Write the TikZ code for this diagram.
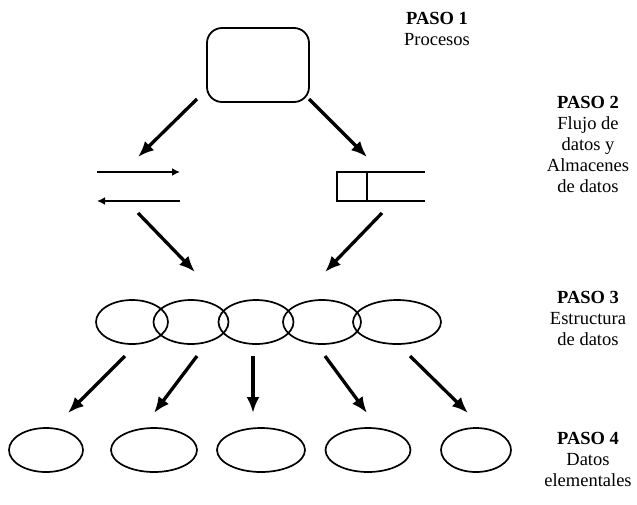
\documentclass[tikz,border=0pt]{standalone}
\usepackage{fontspec}
\setmainfont{Liberation Serif}
\usetikzlibrary{arrows.meta,shapes.geometric}

\begin{document}
\begin{tikzpicture}[
    x=1pt, y=-1pt,
    every node/.style={font=\fontsize{18.5}{21}\selectfont},
    procbox/.style={
        draw, line width=1.8pt, rounded corners=15pt,
        minimum width=102pt, minimum height=74pt
    },
    stru/.style={
        draw, ellipse, line width=1.7pt, inner sep=0pt,
        minimum height=44pt
    },
    storebox/.style={
        draw, line width=1.7pt, inner sep=0pt, outer sep=0pt,
        minimum width=30pt, minimum height=29pt
    },
    bigarrow/.style={-{Latex[length=16pt,width=13pt]}, line width=3.3pt},
    flow/.style={-{Latex[length=8pt,width=8pt]}, line width=1.6pt},
    paso/.style={align=center, inner sep=0pt}
]
\useasboundingbox (0,0) rectangle (637,504);

% Paso 1: proceso
\node[procbox] (proc) at (258,65) {};

% Paso 2: flujos de datos
\coordinate (fa1) at (97,172);
\coordinate (fa2) at (180,172);
\coordinate (fb1) at (180,201);
\coordinate (fb2) at (97,201);
\draw[flow] (fa1) -- (fa2);
\draw[flow] (fb1) -- (fb2);

% Paso 2: almacen de datos
\node[storebox] (store) at (352,186.5) {};
\coordinate (storeA) at (425,172);
\coordinate (storeB) at (425,201);
\draw[line width=1.7pt] (store.north east) -- (storeA);
\draw[line width=1.7pt] (store.south east) -- (storeB);

% Paso 3: estructura de datos
\node[stru, minimum width=72pt] (s1) at (132,322) {};
\node[stru, minimum width=75pt] (s2) at (191,322) {};
\node[stru, minimum width=75pt] (s3) at (256,322) {};
\node[stru, minimum width=78pt] (s4) at (322,322) {};
\node[stru, minimum width=88pt] (s5) at (397,322) {};

% Paso 4: datos elementales
\node[stru, minimum width=74pt] (d1) at (46,450) {};
\node[stru, minimum width=86pt] (d2) at (154,450) {};
\node[stru, minimum width=88pt] (d3) at (261,450) {};
\node[stru, minimum width=85pt] (d4) at (368,450) {};
\node[stru, minimum width=70pt] (d5) at (476,450) {};

% Flechas
\coordinate (p1) at (197,99);   \coordinate (q1) at (138,157);
\coordinate (p2) at (309,99);   \coordinate (q2) at (367,157);
\coordinate (p3) at (138,213);  \coordinate (q3) at (195,272);
\coordinate (p4) at (382,213);  \coordinate (q4) at (325,272);
\draw[bigarrow] (p1) -- (q1);
\draw[bigarrow] (p2) -- (q2);
\draw[bigarrow] (p3) -- (q3);
\draw[bigarrow] (p4) -- (q4);

\coordinate (r1) at (125,356);  \coordinate (t1) at (68,413);
\coordinate (r2) at (197,356);  \coordinate (t2) at (154,413);
\coordinate (r3) at (253,356);  \coordinate (t3) at (253,413);
\coordinate (r4) at (325,356);  \coordinate (t4) at (367,413);
\coordinate (r5) at (410,356);  \coordinate (t5) at (468,413);
\foreach \i in {1,...,5}
    \draw[bigarrow] (r\i) -- (t\i);

% Textos de los pasos
\node[paso] (paso1) at (437,29) {\textbf{PASO 1}\\Procesos};
\node[paso] (paso2) at (588,144)
    {\textbf{PASO 2}\\Flujo de\\datos y\\Almacenes\\de datos};
\node[paso] (paso3) at (588,318) {\textbf{PASO 3}\\Estructura\\de datos};
\node[paso] (paso4) at (588,459) {\textbf{PASO 4}\\Datos\\elementales};

\end{tikzpicture}
\end{document}
